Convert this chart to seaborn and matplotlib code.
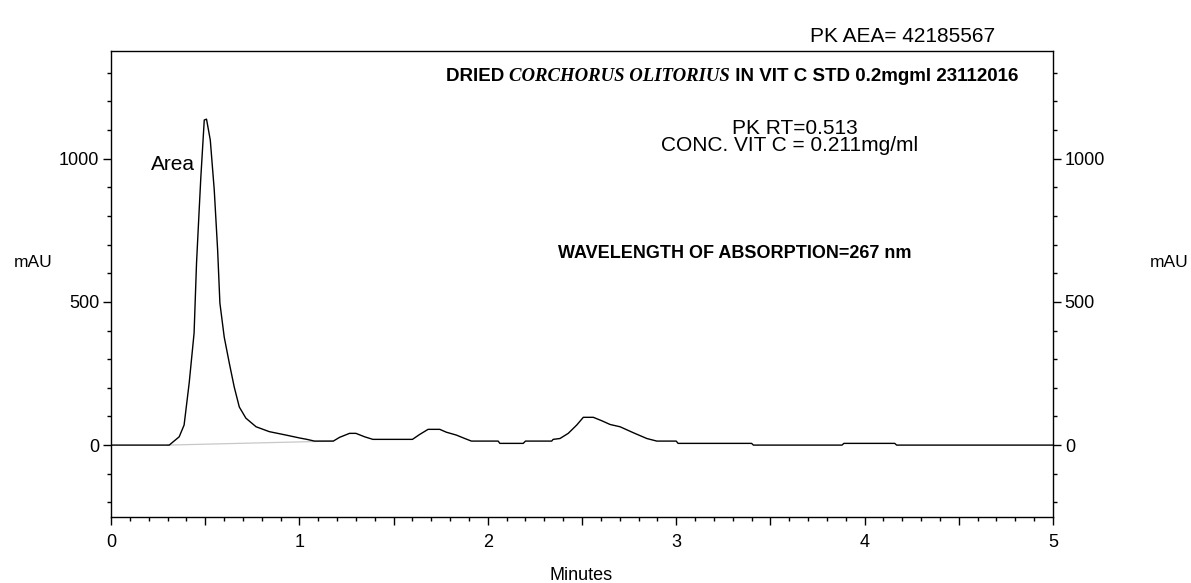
import matplotlib
matplotlib.use("Agg")
import matplotlib.pyplot as plt
import seaborn as sns
import pandas as pd
from matplotlib.ticker import MultipleLocator, FuncFormatter

# chromatogram trace (minutes, mAU)
minutes = [0.0, 0.309, 0.362, 0.388, 0.415, 0.441, 0.454, 0.468, 0.477, 0.495, 0.507,
           0.527, 0.548, 0.566, 0.578, 0.601, 0.628, 0.654, 0.681, 0.716, 0.770, 0.840,
           0.929, 1.0, 1.04, 1.08, 1.18, 1.213, 1.266, 1.30, 1.346, 1.39, 1.60, 1.638,
           1.683, 1.745, 1.78, 1.833, 1.878, 1.913, 2.055, 2.064, 2.188, 2.2, 2.339,
           2.347, 2.383, 2.427, 2.472, 2.507, 2.56, 2.605, 2.649, 2.702, 2.773, 2.844,
           2.897, 3.0, 3.01, 3.40, 3.41, 3.88, 3.89, 4.16, 4.17, 5.0]
mau = [0, 0, 29, 70, 217, 391, 636, 821, 937, 1135, 1138,
       1065, 891, 681, 496, 377, 286, 203, 133, 94, 64, 47,
       35, 25, 20, 14, 14, 27, 41, 41, 29, 20, 20, 37,
       55, 55, 45, 35, 23, 14, 14, 6, 6, 14, 14,
       20, 23, 41, 70, 97, 97, 85, 72, 64, 43, 23,
       14, 14, 6, 6, 0, 0, 6, 6, 0, 0]

# integration baseline under the main peak
base_min = [0.30, 1.18]
base_mau = [0, 14]

title_parts = [("DRIED ", "sans"), ("CORCHORUS OLITORIUS", "serif"),
               (" IN VIT C STD 0.2mgml 23112016", "sans")]

df = pd.DataFrame({"Minutes": minutes, "mAU": mau})
base = pd.DataFrame({"Minutes": base_min, "mAU": base_mau})

sns.set_style("ticks")
plt.rcParams["font.family"] = ["Liberation Sans", "DejaVu Sans"]
plt.rcParams["text.color"] = "black"
plt.rcParams["xtick.color"] = "black"
plt.rcParams["ytick.color"] = "black"

W, H = 1191, 583
fig = plt.figure(figsize=(W / 100, H / 100), dpi=100)
ax = fig.add_axes([111 / W, 1 - 516.7 / H, (1053 - 111) / W, (516.7 - 51) / H])


def px(x, y):
    return x / W, 1 - y / H


sns.lineplot(data=base, x="Minutes", y="mAU", ax=ax, color="#c8c8c8", lw=0.9)
sns.lineplot(data=df, x="Minutes", y="mAU", ax=ax, color="black", lw=1.0)

ax.set_xlim(0, 5)
ax.set_ylim(-250, 1376)
ax.set_xlabel("")
ax.set_ylabel("")

ax.xaxis.set_major_locator(MultipleLocator(0.5))
ax.xaxis.set_minor_locator(MultipleLocator(0.1))
ax.xaxis.set_major_formatter(FuncFormatter(lambda v, p: f"{v:.0f}" if abs(v - round(v)) < 1e-6 else ""))
ax.yaxis.set_major_locator(MultipleLocator(500))
ax.yaxis.set_minor_locator(MultipleLocator(100))
ax.tick_params(axis="both", which="major", length=5.5, width=1, labelsize=13, colors="black", pad=3)
ax.tick_params(axis="both", which="minor", length=3, width=1, colors="black")
ax.tick_params(axis="y", which="both", right=True, labelright=True)
ax.tick_params(axis="x", pad=7)
for s in ax.spines.values():
    s.set_color("black")
    s.set_linewidth(1.0)

fig.text(*px(33, 262), "mAU", ha="center", va="center", fontsize=12.5)
fig.text(*px(1169, 262), "mAU", ha="center", va="center", fontsize=12.5)
fig.text(*px(581, 580), "Minutes", ha="center", va="baseline", fontsize=13)

fig.text(*px(903, 37), "PK AEA= 42185567", ha="center", va="center", fontsize=15)
fig.text(*px(173, 165), "Area", ha="center", va="center", fontsize=15)
fig.text(*px(795, 129), "PK RT=0.513", ha="center", va="center", fontsize=15)
fig.text(*px(790, 146), "CONC. VIT C = 0.211mg/ml", ha="center", va="center", fontsize=15)
fig.text(*px(735, 253), "WAVELENGTH OF ABSORPTION=267 nm", ha="center", va="center",
         fontsize=13, fontweight="bold")

# title with an italic serif species name
renderer = fig.canvas.get_renderer()
x0 = 446
for txt, kind in title_parts:
    if kind == "serif":
        t = fig.text(*px(x0, 81), txt, ha="left", va="baseline", fontsize=13.5,
                     family=["Liberation Serif", "DejaVu Serif"], style="italic", fontweight="bold")
    else:
        t = fig.text(*px(x0, 81), txt, ha="left", va="baseline", fontsize=13.5, fontweight="bold")
    bb = t.get_window_extent(renderer=renderer)
    x0 = bb.x1

fig.savefig("out.png", dpi=100)
